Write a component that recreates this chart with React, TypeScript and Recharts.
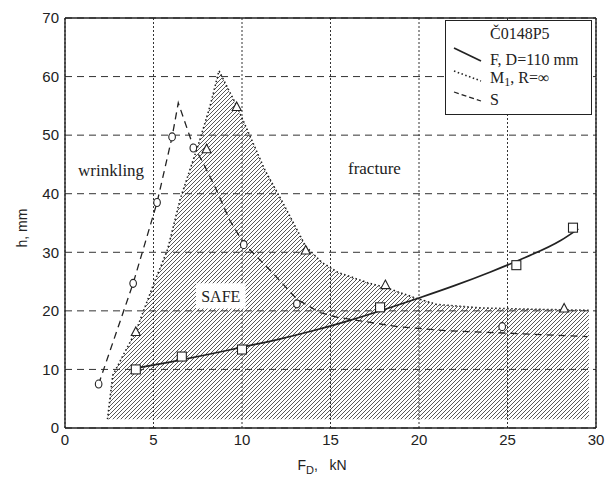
import React from 'react';
import {
  ComposedChart, Line, Area, Scatter, XAxis, YAxis, CartesianGrid,
  ReferenceLine, ReferenceArea, Label,
} from 'recharts';

const xTicks = [0, 5, 10, 15, 20, 25, 30];
const yTicks = [0, 10, 20, 30, 40, 50, 60, 70];

// F, D=110 mm : fitted solid curve and square measurements
const fCurve = [
  { x: 4.0, h: 10.2 }, { x: 6.0, h: 11.3 }, { x: 8.0, h: 12.5 }, { x: 10.0, h: 13.8 },
  { x: 12.0, h: 15.1 }, { x: 14.0, h: 16.6 }, { x: 16.0, h: 18.3 }, { x: 18.0, h: 20.2 },
  { x: 20.0, h: 22.2 }, { x: 22.0, h: 24.3 }, { x: 24.0, h: 26.6 }, { x: 26.0, h: 29.1 },
  { x: 28.0, h: 32.0 }, { x: 29.0, h: 34.0 },
];
const fPoints = [
  { x: 4.0, h: 10.0 }, { x: 6.6, h: 12.2 }, { x: 10.0, h: 13.4 },
  { x: 17.8, h: 20.6 }, { x: 25.5, h: 27.8 }, { x: 28.7, h: 34.2 },
];

// M1, R=inf : dotted envelope bounding the hatched SAFE region, triangle measurements
const m1Envelope = [
  { x: 2.4, h: 1.5 }, { x: 2.7, h: 9.0 }, { x: 3.3, h: 12.5 }, { x: 4.0, h: 16.5 },
  { x: 5.0, h: 24.5 }, { x: 5.8, h: 30.5 }, { x: 6.5, h: 39.0 }, { x: 7.6, h: 49.0 },
  { x: 8.2, h: 55.0 }, { x: 8.7, h: 61.0 }, { x: 9.7, h: 55.0 }, { x: 10.5, h: 49.5 },
  { x: 11.3, h: 44.0 }, { x: 12.3, h: 38.5 }, { x: 13.6, h: 31.0 }, { x: 14.5, h: 28.3 },
  { x: 15.4, h: 26.6 }, { x: 17.1, h: 24.8 }, { x: 18.1, h: 24.0 }, { x: 19.7, h: 22.3 },
  { x: 21.0, h: 21.1 }, { x: 23.5, h: 20.5 }, { x: 26.0, h: 20.3 }, { x: 29.6, h: 20.1 },
];
const m1Points = [
  { x: 4.0, h: 16.4 }, { x: 8.0, h: 47.6 }, { x: 9.7, h: 54.8 },
  { x: 13.6, h: 30.3 }, { x: 18.1, h: 24.4 }, { x: 28.2, h: 20.4 },
];

// S : dashed curve and circle measurements
const sCurve = [
  { x: 1.9, h: 7.5 }, { x: 3.85, h: 24.7 }, { x: 5.2, h: 38.5 }, { x: 6.05, h: 49.7 },
  { x: 6.4, h: 55.5 }, { x: 7.2, h: 48.5 }, { x: 7.8, h: 45.3 }, { x: 8.5, h: 41.0 },
  { x: 9.3, h: 35.5 }, { x: 10.1, h: 31.5 }, { x: 11.6, h: 26.9 }, { x: 13.1, h: 22.0 },
  { x: 14.4, h: 19.7 }, { x: 15.4, h: 18.9 }, { x: 18.8, h: 17.3 }, { x: 21.6, h: 16.6 },
  { x: 25.0, h: 16.2 }, { x: 29.5, h: 15.6 },
];
const sPoints = [
  { x: 1.9, h: 7.5 }, { x: 3.85, h: 24.7 }, { x: 5.2, h: 38.5 }, { x: 6.05, h: 49.7 },
  { x: 7.25, h: 47.8 }, { x: 10.1, h: 31.3 }, { x: 13.1, h: 21.2 }, { x: 24.7, h: 17.3 },
];

const safeBox = { x1: 7.4, x2: 10.2, y1: 20.4, y2: 24.7 };

const INK = '#222';

const Square = (p: any) => (
  <rect x={p.cx - 4.5} y={p.cy - 4.5} width={9} height={9} fill="#fff" stroke={INK} strokeWidth={1.1} />
);
const Circ = (p: any) => (
  <ellipse cx={p.cx} cy={p.cy} rx={3.3} ry={4} fill="#fff" stroke={INK} strokeWidth={1.1} />
);
const Tri = (p: any) => (
  <path
    d={`M${p.cx},${p.cy - 5}L${p.cx + 4.5},${p.cy + 3.5}L${p.cx - 4.5},${p.cy + 3.5}Z`}
    fill="#fff" stroke={INK} strokeWidth={1.1}
  />
);

const serif = '"Liberation Serif", "DejaVu Serif", serif';
const sans = '"Liberation Sans", Arial, sans-serif';

export default function App() {
  return (
    <div style={{ position: 'absolute', left: 0, top: 0, width: 607, height: 479, background: '#fff' }}>
      <svg width={0} height={0} style={{ position: 'absolute' }}>
        <defs>
          <pattern id="hatch" patternUnits="userSpaceOnUse" width={4} height={4}>
            <path d="M-1,1 l2,-2 M0,4 l4,-4 M3,5 l2,-2" stroke="#3a3a3a" strokeWidth={0.85} />
          </pattern>
        </defs>
      </svg>
      <ComposedChart
        width={607}
        height={479}
        margin={{ top: 18, right: 11, bottom: 0, left: 0 }}
      >
        <CartesianGrid vertical={false} strokeDasharray="7 5" stroke="#333" strokeWidth={1} />
        <XAxis
          dataKey="x" type="number" domain={[0, 30]} ticks={xTicks} height={51}
          tickLine={false} tickSize={4} tickMargin={2}
          axisLine={{ stroke: INK, strokeWidth: 1.4 }}
          tick={{ fill: INK, fontSize: 15, fontFamily: sans }}
          allowDataOverflow
        />
        <YAxis
          dataKey="h" type="number" domain={[0, 70]} ticks={yTicks} width={65}
          tickLine={false} tickSize={3} tickMargin={3}
          axisLine={{ stroke: INK, strokeWidth: 1.4 }}
          tick={{ fill: INK, fontSize: 15, fontFamily: sans }}
          allowDataOverflow
        />
        <Area
          data={m1Envelope} dataKey="h" type="linear" baseValue={1.5}
          fill="url(#hatch)" fillOpacity={1}
          stroke={INK} strokeWidth={1.6} strokeDasharray="1.5 2.5"
          isAnimationActive={false} dot={false} activeDot={false}
        />
        <CartesianGrid horizontal={false} strokeDasharray="2 2" stroke="#333" strokeWidth={1} />
        <ReferenceLine y={70} stroke={INK} strokeWidth={1.4} />
        <ReferenceLine x={30} stroke={INK} strokeWidth={1.4} />
        <Line
          data={sCurve} dataKey="h" type="linear" stroke={INK} strokeWidth={1.3}
          strokeDasharray="7 5" dot={false} activeDot={false} isAnimationActive={false}
        />
        <Line
          data={fCurve} dataKey="h" type="monotone" stroke={INK} strokeWidth={1.7}
          dot={false} activeDot={false} isAnimationActive={false}
        />
        <Scatter data={m1Points} dataKey="h" shape={Tri} isAnimationActive={false} />
        <Scatter data={sPoints} dataKey="h" shape={Circ} isAnimationActive={false} />
        <Scatter data={fPoints} dataKey="h" shape={Square} isAnimationActive={false} />
        <ReferenceArea
          x1={safeBox.x1} x2={safeBox.x2} y1={safeBox.y1} y2={safeBox.y2}
          fill="#fff" fillOpacity={1} stroke="none"
        >
          <Label value="SAFE" position="center" fill={INK} fontSize={16} fontFamily={serif} />
        </ReferenceArea>
      </ComposedChart>

      {/* region annotations */}
      <div style={{ position: 'absolute', left: 78, top: 161, fontFamily: serif, fontSize: 17, color: INK, lineHeight: '20px' }}>
        wrinkling
      </div>
      <div style={{ position: 'absolute', left: 348, top: 159, fontFamily: serif, fontSize: 17, color: INK, lineHeight: '20px' }}>
        fracture
      </div>

      {/* legend */}
      <div
        style={{
          position: 'absolute', left: 445, top: 20, width: 147, height: 95,
          border: `1.3px solid ${INK}`, background: '#fff', boxSizing: 'border-box', overflow: 'hidden',
        }}
      >
        <svg width={147} height={95} style={{ position: 'absolute', left: 0, top: 0 }}>
          <line x1={8} y1={27} x2={35} y2={40} stroke={INK} strokeWidth={1.7} />
          <line x1={8} y1={50} x2={35} y2={60} stroke={INK} strokeWidth={1.6} strokeDasharray="1.5 2.5" />
          <line x1={8} y1={71} x2={35} y2={80} stroke={INK} strokeWidth={1.3} strokeDasharray="5 3" />
        </svg>
        <div style={{ position: 'absolute', left: 44, top: 3, fontFamily: serif, fontSize: 16, color: INK, whiteSpace: 'nowrap', lineHeight: '20px' }}>
          Č0148P5
        </div>
        <div style={{ position: 'absolute', left: 44, top: 29, fontFamily: serif, fontSize: 16, color: INK, whiteSpace: 'nowrap', lineHeight: '20px' }}>
          F, D=110 mm
        </div>
        <div style={{ position: 'absolute', left: 44, top: 47, fontFamily: serif, fontSize: 16, color: INK, whiteSpace: 'nowrap', lineHeight: '20px' }}>
          M<sub style={{ fontSize: 12, verticalAlign: '-3px' }}>1</sub>, R=∞
        </div>
        <div style={{ position: 'absolute', left: 44, top: 69, fontFamily: serif, fontSize: 16, color: INK, whiteSpace: 'nowrap', lineHeight: '20px' }}>
          S
        </div>
      </div>

      {/* axis titles */}
      <div
        style={{
          position: 'absolute', left: 22, top: 228, transform: 'translate(-50%, -50%) rotate(-90deg)',
          fontFamily: sans, fontSize: 14, color: INK, whiteSpace: 'nowrap',
        }}
      >
        h, mm
      </div>
      <div
        style={{
          position: 'absolute', left: 322, top: 466, transform: 'translate(-50%, -50%)',
          fontFamily: sans, fontSize: 14, color: INK, whiteSpace: 'nowrap',
        }}
      >
        F<sub style={{ fontSize: 11, verticalAlign: '-4px' }}>D</sub>,&nbsp;&nbsp; kN
      </div>
    </div>
  );
}
